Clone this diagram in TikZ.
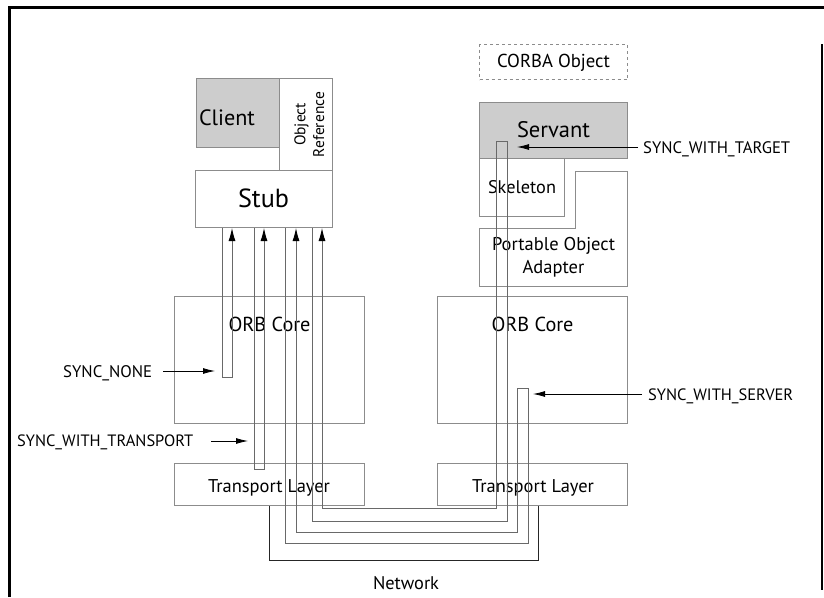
\documentclass[tikz,border=0pt]{standalone}
\usepackage{graphicx}
\usepackage{fontspec}
\setmainfont{PT Sans}
\usetikzlibrary{arrows.meta}
\definecolor{boxgray}{RGB}{140,140,140}
\definecolor{loopgray}{RGB}{105,105,105}
\definecolor{fillgray}{RGB}{205,205,205}
% set a text to a given width, keeping its proportions
\newcommand{\fitw}[2]{\resizebox{#1}{!}{\fontsize{20}{24}\selectfont #2}}
% two centred lines, baseline on the last one
\newcommand{\twolines}[2]{\begin{tabular}[b]{@{}c@{}}#1\\#2\end{tabular}}
\tikzset{
  box/.style={draw=boxgray, line width=1pt, fill=white, anchor=north west, inner sep=0pt},
  shadedbox/.style={box, fill=fillgray},
  lbl/.style={anchor=base, inner sep=0pt},
  slabel/.style={anchor=base west, inner sep=0pt},
  loopline/.style={draw=loopgray, line width=0.9pt},
  tip/.style={-{Latex[length=13pt,width=7pt,color=black]}},
  ptr/.style={draw=black, line width=0.8pt, -{Latex[length=12pt,width=6pt]}},
  netline/.style={draw=black!85, line width=1pt},
}
\begin{document}
\begin{tikzpicture}[x=1pt,y=-1pt]
\useasboundingbox (0,0) rectangle (824,597);

% outer frame
\draw[line width=3pt] (9,597) -- (9,7) -- (824,7);
\draw[line width=1.5pt] (822,44) -- (822,590);

% client side boxes
\node[shadedbox, minimum width=83pt, minimum height=69pt] (client) at (196,78) {};
\node[box, minimum width=53pt, minimum height=92pt] (objref) at (279,78) {};
\node[box, minimum width=137pt, minimum height=57pt] (stub) at (195,170) {};
\node[box, minimum width=190pt, minimum height=127pt] (lorb) at (174,296) {};
\node[box, minimum width=190pt, minimum height=42pt] (ltl) at (174,463) {};

% server side boxes
\node[box, dashed, minimum width=148pt, minimum height=35pt] (corba) at (479,44) {};
\node[box, minimum width=85pt, minimum height=58pt] (skel) at (479,158) {};
\node[shadedbox, minimum width=148pt, minimum height=56pt] (servant) at (479,102) {};
\draw[draw=boxgray, line width=1pt, fill=white]
  (575,171) -- (627,171) -- (627,286) -- (479,286) -- (479,228) -- (575,228) -- cycle;
\node[box, minimum width=190pt, minimum height=127pt] (rorb) at (437,296) {};
\node[box, minimum width=190pt, minimum height=42pt] (rtl) at (437,463) {};

% box texts
\node[lbl] (clienttext) at (227,125) {\fitw{56pt}{Client}};
\node[lbl, rotate=90] (objreftext) at (324,124.5) {\fitw{65pt}{\twolines{Object}{Reference}}};
\node[lbl] (stubtext) at (263.5,207) {\fitw{51pt}{Stub}};
\node[lbl] (lorbtext) at (269.5,331) {\fitw{82pt}{ORB Core}};
\node[lbl] (rorbtext) at (532.5,331) {\fitw{82pt}{ORB Core}};
\node[lbl] (ltltext) at (269,492) {\fitw{122pt}{Transport Layer}};
\node[lbl] (rtltext) at (533,492) {\fitw{122pt}{Transport Layer}};
\node[lbl] (nettext) at (406,589) {\fitw{66pt}{Network}};
\node[lbl] (corbatext) at (553.5,67) {\fitw{113pt}{CORBA Object}};
\node[lbl] (servanttext) at (553.5,137) {\fitw{73pt}{Servant}};
\node[lbl] (skeltext) at (522,193) {\fitw{68pt}{Skeleton}};
\node[lbl] (poatext) at (553.5,273) {\fitw{123pt}{\twolines{Portable Object}{Adapter}}};

% network link between the transport layers
\coordinate (n1) at (269,560);
\coordinate (n2) at (538,560);
\draw[netline] (ltl.south -| n1) -- (n1) -- (n2) -- (rtl.south -| n2);

% SYNC_NONE round trip
\coordinate (a1) at (222,377);
\coordinate (a2) at (232,377);
\draw[loopline, tip] (stub.south -| a1) -- (a1) -- (a2) -- (stub.south -| a2);

% SYNC_WITH_TRANSPORT round trip
\coordinate (b1) at (254,469);
\coordinate (b2) at (264,469);
\draw[loopline, tip] (stub.south -| b1) -- (b1) -- (b2) -- (stub.south -| b2);

% SYNC_WITH_SERVER round trip
\coordinate (c1) at (285,543);
\coordinate (c2) at (528,543);
\coordinate (c3) at (528,388);
\coordinate (c4) at (517,388);
\coordinate (c5) at (517,532);
\coordinate (c6) at (296,532);
\draw[loopline, tip] (stub.south -| c1) -- (c1) -- (c2) -- (c3) -- (c4) -- (c5) -- (c6) -- (stub.south -| c6);

% SYNC_WITH_TARGET round trip
\coordinate (d1) at (312,521);
\coordinate (d2) at (507,521);
\coordinate (d3) at (507,141);
\coordinate (d4) at (496,141);
\coordinate (d5) at (496,508);
\coordinate (d6) at (322,508);
\draw[loopline, tip] (stub.south -| d1) -- (d1) -- (d2) -- (d3) -- (d4) -- (d5) -- (d6) -- (stub.south -| d6);

% policy labels and pointers
\node[slabel] (snone) at (63,377) {\fitw{89pt}{SYNC\_NONE}};
\coordinate (pnone) at (215,371);
\draw[ptr] (snone.east |- pnone) ++(11,0) -- (pnone);

\node[slabel] (strans) at (17,446) {\fitw{176pt}{SYNC\_WITH\_TRANSPORT}};
\coordinate (ptrans) at (248,441);
\draw[ptr] (strans.east |- ptrans) ++(18,0) -- (ptrans);

\node[slabel] (starget) at (643,153) {\fitw{147pt}{SYNC\_WITH\_TARGET}};
\coordinate (ptarget) at (517,147);
\draw[ptr] (starget.west |- ptarget) ++(-5,0) -- (ptarget);

\node[slabel] (sserver) at (648,400) {\fitw{145pt}{SYNC\_WITH\_SERVER}};
\coordinate (pserver) at (533,394);
\draw[ptr] (sserver.west |- pserver) ++(-6,0) -- (pserver);
\end{tikzpicture}
\end{document}
